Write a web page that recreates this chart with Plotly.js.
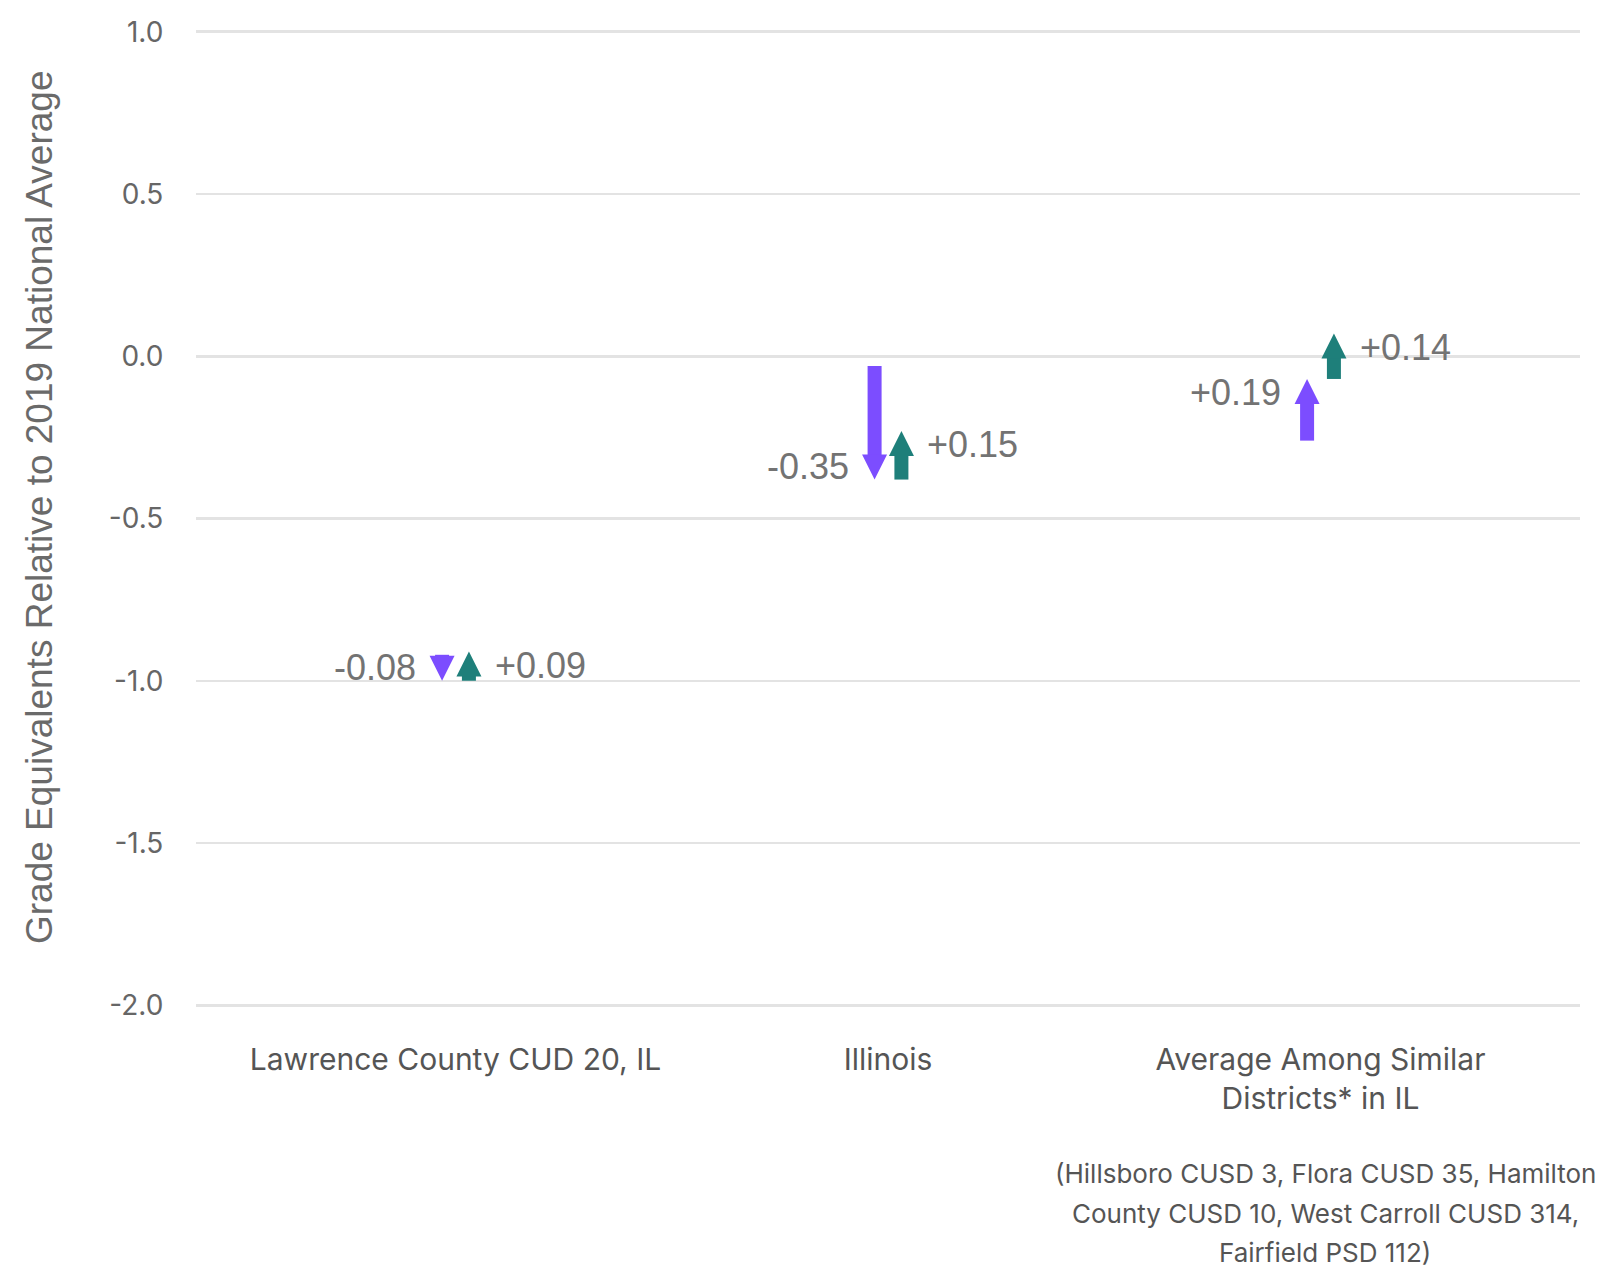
<!DOCTYPE html>
<html><head><meta charset="utf-8">
<script src="https://cdn.plot.ly/plotly-3.0.1.min.js"></script>
<style>html,body{margin:0;padding:0;background:#fff}#chart{width:1600px;height:1270px}</style>
</head><body><div id="chart"></div>
<script>
// ---- data ----
const categories = ["Lawrence County CUD 20, IL", "Illinois", "Average Among Similar<br>Districts* in IL"];
const score2019 = [-0.92, -0.03, -0.26];
const score2022 = [-1.00, -0.38, -0.07];
const score2023 = [-0.91, -0.23, 0.07];
const yTickVals = [1.0, 0.5, 0.0, -0.5, -1.0, -1.5, -2.0];
const yTickText = ["1.0", "0.5", "0.0", "-0.5", "-1.0", "-1.5", "-2.0"];
const yTitle = "Grade Equivalents Relative to 2019 National Average";
const footnoteLines = ["(Hillsboro CUSD 3, Flora CUSD 35, Hamilton", "County CUSD 10, West Carroll CUSD 314,", "Fairfield PSD 112)"];

// ---- style ----
const PURPLE = "#7c4dff", TEAL = "#1e7f7a";
const OFF = 0.031;
const LABEL_FONT = {family: "Liberation Sans, Arial, sans-serif", size: 36, color: "#737373"};
const AXIS_FONT = "Inter, Lato, sans-serif";
const M = {l: 196, r: 20, t: 22, b: 255};
const W = 1600, H = 1270;
const plotH = H - M.t - M.b, plotW = W - M.l - M.r;
const px2x = px => (px - M.l) / plotW;
const px2y = py => (H - M.b - py) / plotH;

function fmt(v) {
  const s = Math.abs(v).toFixed(2);
  return (v < 0 ? "-" : "+") + s;
}

const traces = [];
const annotations = [];
const xIdx = categories.map((c, i) => i);

function addArrow(x, y0, y1, color, side) {
  const up = y1 > y0;
  traces.push({
    type: "scatter", mode: "lines+markers",
    x: [x, x], y: [y0, y1],
    line: {color: color, width: 14, backoff: 18},
    marker: {symbol: ["circle", up ? "arrow-up" : "arrow-down"], size: [0, 25], color: color, opacity: 1, line: {width: 0}},
    hoverinfo: "skip", showlegend: false, cliponaxis: false
  });
  annotations.push({
    x: x, y: y1, xref: "x", yref: "y",
    text: fmt(y1 - y0), showarrow: false,
    xanchor: side < 0 ? "right" : "left",
    yanchor: "middle",
    xshift: side * 24,
    yshift: up ? -14 : 13,
    font: LABEL_FONT
  });
}

xIdx.forEach(i => {
  addArrow(i - OFF, score2019[i], score2022[i], PURPLE, -1);
  addArrow(i + OFF, score2022[i], score2023[i], TEAL, 1);
});

// y-axis title (as rotated annotation so it can sit where the original does)
annotations.push({
  xref: "paper", yref: "paper", x: px2x(39), y: px2y(507),
  text: yTitle, textangle: -90, showarrow: false,
  xanchor: "center", yanchor: "middle",
  font: {family: "Liberation Sans, Arial, sans-serif", size: 37, color: "#6a6a6a"}
});

const footY = [1173, 1213, 1252];
footnoteLines.forEach((t, k) => {
  annotations.push({
    xref: "paper", yref: "paper",
    x: px2x(1325), y: px2y(footY[k]),
    text: t, showarrow: false, xanchor: "center", yanchor: "middle",
    font: {family: AXIS_FONT, size: 26, color: "#555555"}
  });
});

const layout = {
  width: W, height: H,
  margin: M,
  paper_bgcolor: "#ffffff", plot_bgcolor: "#ffffff",
  showlegend: false, hovermode: false,
  xaxis: {
    range: [-0.6, 2.6], tickvals: xIdx, ticktext: categories,
    showgrid: false, zeroline: false, showline: false,
    ticks: "outside", ticklen: 18, tickcolor: "rgba(0,0,0,0)",
    tickfont: {family: AXIS_FONT, size: 30, color: "#555555"}
  },
  yaxis: {
    range: [-2.03, 1.03], tickvals: yTickVals, ticktext: yTickText,
    showgrid: true, gridcolor: "#e3e3e3", gridwidth: 2.5,
    zeroline: false, showline: false,
    ticks: "outside", ticklen: 26, tickcolor: "rgba(0,0,0,0)",
    tickfont: {family: AXIS_FONT, size: 28, color: "#666666"}
  },
  annotations: annotations
};

Plotly.newPlot("chart", traces, layout, {displayModeBar: false, staticPlot: true});
</script>
</body></html>
